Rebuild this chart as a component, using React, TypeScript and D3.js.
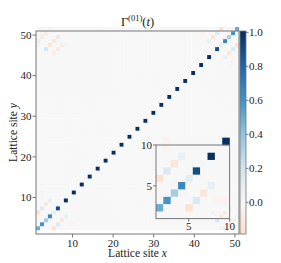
import * as d3 from "d3";

// lattice sites 0..50 (drawn on extent 1..51)
const sites = d3.range(51);

// diagonal of Gamma^(01)(t)
const diagonal = [
  0.5, 0.6, 0.35, 0.65, 0.1, 0.9, 0.02, 1.0, 0.0, 1.0,
  0.0, 1.0, 0.0, 1.0, 0.0, 1.0, 0.0, 1.0, 0.0, 1.0,
  0.0, 1.0, 0.0, 1.0, 0.0, 1.0, 0.0, 1.0, 0.0, 1.0,
  0.0, 1.0, 0.0, 1.0, 0.0, 1.0, 0.0, 1.0, 0.0, 1.0,
  0.0, 1.0, 0.0, 1.0, 0.02, 0.9, 0.1, 0.65, 0.35, 0.6,
  0.5,
];

// off-diagonal entries near the lower-left edge [x, y, value]
const edgePairs = [
  [0, 4, -0.15], [1, 5, 0.15], [2, 6, -0.12], [3, 7, 0.08],
  [1, 9, -0.03], [1, 8, -0.03], [2, 3, 0.02],
];

// entries coupling the two ends of the chain (top-left block) [x, y, value]
const cornerPairs = [
  [0, 47, 0.08], [1, 48, -0.1], [2, 49, -0.08], [3, 50, 0.06],
  [2, 45, 0.18], [3, 46, -0.12], [4, 47, -0.12], [5, 48, 0.12],
  [5, 45, -0.08], [6, 46, -0.07], [4, 44, -0.07], [7, 46, 0.05],
  [0, 46, -0.04],
];

const xTicks = [10, 20, 30, 40, 50];
const insetTicks = [5, 10];
const cbTicks = [0.0, 0.2, 0.4, 0.6, 0.8, 1.0];
const cbRange = [-0.186, 1.008];

const N = sites.length;
const L = N - 1;
const M: number[][] = sites.map(() => sites.map(() => 0));
diagonal.forEach((v, i) => (M[i][i] = v));
edgePairs.forEach(([a, b, v]) => {
  M[b][a] = v; M[a][b] = v;
  M[L - b][L - a] = v; M[L - a][L - b] = v;
});
cornerPairs.forEach(([a, b, v]) => {
  M[b][a] = v; M[a][b] = v;
});

// RdBu as a piecewise-linear map over the brewer colours, normed on [-1, 1]
const rdbu = d3
  .scaleLinear<string>()
  .domain(d3.range(11).map((k) => -1 + k * 0.2))
  .range(d3.schemeRdBu[11] as string[])
  .interpolate(d3.interpolateRgb);
const color = (v: number) => rdbu(v);

const font = "'Liberation Serif', 'DejaVu Serif', serif";
const ink = "#222";
const spine = "#777";

export default function App() {
  const left = 36, right = 239, top = 31, bottom = 234;
  const x = d3.scaleBand<number>().domain(sites).range([left, right]);
  const y = d3.scaleBand<number>().domain(sites).range([bottom, top]);
  const xt = d3.scaleLinear([1, 51], [left, right]);
  const yt = d3.scaleLinear([1, 51], [bottom, top]);

  const inset = d3.range(10);
  const il = 156, ir = 229.6, itop = 145, ib = 218.6;
  const xi = d3.scaleBand<number>().domain(inset).range([il, ir]);
  const yi = d3.scaleBand<number>().domain(inset).range([ib, itop]);
  const xit = d3.scaleLinear([1, 10], [il, ir]);
  const yit = d3.scaleLinear([1, 10], [ib, itop]);

  const cbX = 240, cbW = 6;
  const cb = d3.scaleLinear(cbRange, [bottom, top]);
  const stops = d3.range(0, 1.0001, 0.05).map((t) => cbRange[0] + t * (cbRange[1] - cbRange[0]));

  const cells = sites.flatMap((j) => sites.map((i) => ({ i, j, v: M[j][i] })));
  const insetCells = inset.flatMap((j) => inset.map((i) => ({ i, j, v: M[j][i] })));

  return (
    <svg width={281} height={263} style={{ position: "absolute", left: 0, top: 0, background: "white" }} fontFamily={font}>
      <defs>
        <linearGradient id="cbg" x1="0" y1="1" x2="0" y2="0">
          {stops.map((s, k) => (
            <stop key={k} offset={(s - cbRange[0]) / (cbRange[1] - cbRange[0])} stopColor={color(s)} />
          ))}
        </linearGradient>
      </defs>

      {/* main heat map */}
      <g>
        {cells.map((c) => (
          <rect key={`${c.i}-${c.j}`} x={x(c.i)} y={y(c.j)! - y.bandwidth()} width={x.bandwidth() + 0.2} height={y.bandwidth() + 0.2} fill={color(c.v)} />
        ))}
      </g>
      <rect x={left} y={top} width={right - left} height={bottom - top} fill="none" stroke={spine} strokeWidth={1} />

      {/* axes */}
      {xTicks.map((t) => (
        <g key={`x${t}`}>
          <line x1={xt(t)} x2={xt(t)} y1={bottom} y2={bottom + 3.5} stroke={spine} />
          <text x={xt(t)} y={246.5} textAnchor="middle" fontSize={11} fill={ink}>{t}</text>
        </g>
      ))}
      {xTicks.map((t) => (
        <g key={`y${t}`}>
          <line x1={left - 3.5} x2={left} y1={yt(t)} y2={yt(t)} stroke={spine} />
          <text x={31.5} y={yt(t) + 3.8} textAnchor="end" fontSize={11} fill={ink}>{t}</text>
        </g>
      ))}
      <text x={(left + right) / 2} y={257} textAnchor="middle" fontSize={11.5} fill={ink}>
        Lattice site <tspan fontStyle="italic">x</tspan>
      </text>
      <text transform={`translate(17, ${(top + bottom) / 2}) rotate(-90)`} textAnchor="middle" fontSize={11.5} fill={ink}>
        Lattice site <tspan fontStyle="italic">y</tspan>
      </text>
      <text x={(left + right) / 2} y={26} textAnchor="middle" fontSize={12.5} fill={ink}>
        Γ<tspan fontSize={8.5} dy={-5}>(01)</tspan><tspan dy={5}>(</tspan><tspan fontStyle="italic">t</tspan>)
      </text>

      {/* inset: first 10 sites */}
      <g>
        {insetCells.map((c) => (
          <rect key={`i${c.i}-${c.j}`} x={xi(c.i)} y={yi(c.j)! - yi.bandwidth()} width={xi.bandwidth() + 0.2} height={yi.bandwidth() + 0.2} fill={color(c.v)} />
        ))}
      </g>
      <rect x={il} y={itop} width={ir - il} height={ib - itop} fill="none" stroke={spine} strokeWidth={1} />
      {insetTicks.map((t) => (
        <g key={`ix${t}`}>
          <line x1={xit(t)} x2={xit(t)} y1={ib} y2={ib + 3} stroke={spine} />
          <text x={xit(t)} y={229.5} textAnchor="middle" fontSize={11} fill={ink}>{t}</text>
          <line x1={il - 3} x2={il} y1={yit(t)} y2={yit(t)} stroke={spine} />
          <text x={152} y={yit(t) + 3.8} textAnchor="end" fontSize={11} fill={ink}>{t}</text>
        </g>
      ))}

      {/* colorbar */}
      <rect x={cbX} y={top} width={cbW} height={bottom - top} fill="url(#cbg)" stroke={spine} strokeWidth={0.8} />
      {cbTicks.map((t) => (
        <g key={`c${t}`}>
          <line x1={cbX + cbW} x2={cbX + cbW + 2.5} y1={cb(t)} y2={cb(t)} stroke={spine} />
          <text x={249} y={cb(t) + 3.8} fontSize={11} fill={ink}>{t.toFixed(1)}</text>
        </g>
      ))}
    </svg>
  );
}
